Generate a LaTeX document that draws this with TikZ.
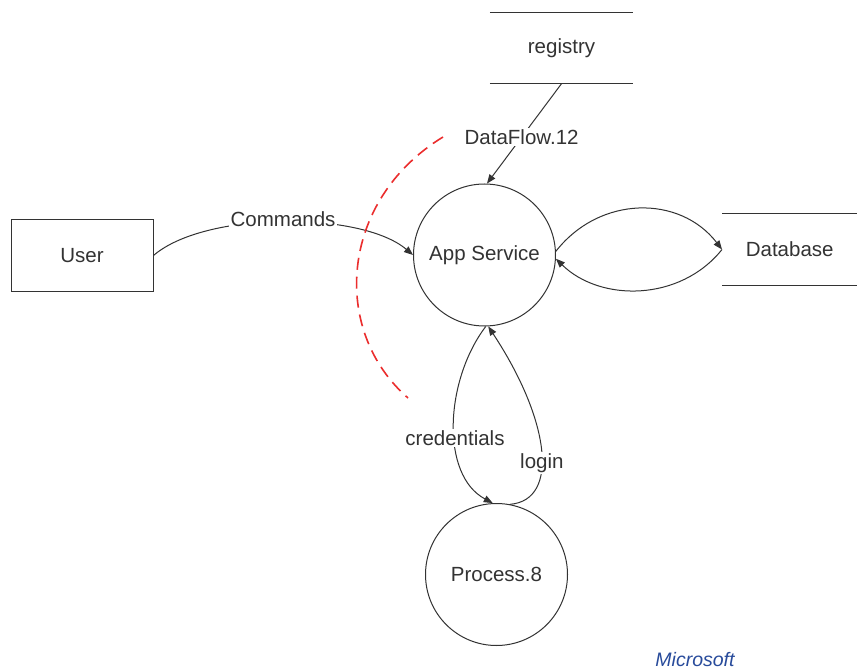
\documentclass[tikz,border=0pt]{standalone}
\usepackage{fontspec}
\setmainfont{Liberation Sans}
\usetikzlibrary{arrows.meta}
\definecolor{ink}{RGB}{51,51,51}
\definecolor{flowred}{RGB}{235,45,45}
\definecolor{brandblue}{RGB}{40,75,155}
\tikzset{
  txt/.style={font=\fontsize{20.5}{24}\selectfont, text=ink},
  process/.style={circle, draw=ink, line width=1pt, minimum size=142, inner sep=0pt, txt},
  entity/.style={rectangle, draw=ink, line width=1pt, minimum width=142, minimum height=71, txt},
  store/.style={rectangle, minimum width=143, minimum height=71, txt},
  flow/.style={draw=ink, line width=1pt, -{Triangle[length=9pt,width=7pt]}},
  flowlabel/.style={fill=white, inner sep=1.5pt, txt},
  boundary/.style={draw=flowred, line width=1.6pt, dash pattern=on 12pt off 7pt}
}
\begin{document}
\begin{tikzpicture}[x=1pt,y=-1pt]
  \useasboundingbox[fill=white] (0,0) rectangle (857,671);

  % processes and external entity
  \node[process] (app) at (484.5,255) {App Service};
  \node[process] (proc) at (496.5,574.5) {Process.8};
  \node[entity] (user) at (82,255.5) {User};

  % data stores (open-ended: top and bottom rules only)
  \node[store] (reg) at (561.5,48) {registry};
  \draw[ink, line width=1pt] (reg.north west) -- (reg.north east)
                             (reg.south west) -- (reg.south east);
  \node[store, anchor=west, minimum width=135] (db) at (722,249.5) {Database};
  \draw[ink, line width=1pt] (db.north west) -- (db.north east)
                             (db.south west) -- (db.south east);

  % data flows
  \draw[flow] (reg.south) -- node[flowlabel, pos=0.535] {DataFlow.12} (app.88);
  \draw[flow] (user.east) .. controls (205,211) and (361,211) ..
        node[flowlabel, pos=0.5, yshift=3pt] (cmd) {Commands} (app.west);
  \draw[flow] (app.3) .. controls (600,195) and (680,195) .. (db.west);
  \draw[flow] (db.west) .. controls (680,302) and (600,302) .. (app.-3);
  \draw[flow] (app.-89) .. controls (445,380) and (440,475) ..
        node[flowlabel, pos=0.57] {credentials} (proc.93);
  \draw[flow] (proc.79) .. controls (560,500) and (550,420) ..
        node[flowlabel, pos=0.42] {login} (app.-87);

  % trust boundary
  \coordinate (tbA) at (443,137);
  \coordinate (tbB) at (408,398);
  \draw[boundary] (tbA) .. controls (340,200) and (330,330) .. (tbB);

  % credit
  \node[anchor=base, font=\fontsize{19.5}{22}\selectfont\itshape, text=brandblue]
        (credit) at (695,666) {Microsoft};
\end{tikzpicture}
\end{document}
